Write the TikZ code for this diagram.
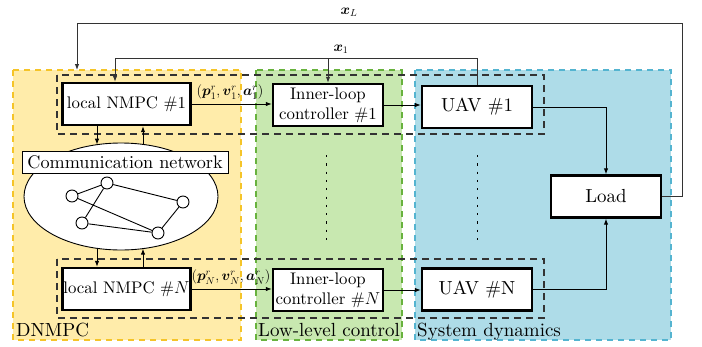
\documentclass[tikz,border=0pt]{standalone}
\usepackage{amsmath}
\usepackage{fontspec}
\setmainfont{lmroman10-regular.otf}[BoldFont=lmroman10-bold.otf, ItalicFont=lmroman10-italic.otf, BoldItalicFont=lmroman10-bolditalic.otf]
\usetikzlibrary{arrows.meta,shapes.geometric}

\definecolor{yfill}{RGB}{255,236,170}
\definecolor{yline}{RGB}{245,196,40}
\definecolor{gfill}{RGB}{200,232,176}
\definecolor{gline}{RGB}{104,178,62}
\definecolor{bfill}{RGB}{174,220,232}
\definecolor{bline}{RGB}{84,180,208}

\tikzset{
  blk/.style={draw, line width=2.4pt, fill=white, minimum height=42pt, inner sep=0pt},
  nmpcbox/.style={blk, minimum width=128pt, font=\fontsize{16.8}{19.8}\selectfont},
  ctrlbox/.style={blk, minimum width=110pt, align=center, font=\fontsize{16.8}{19.8}\selectfont},
  sysbox/.style={blk, minimum width=110pt, font=\fontsize{18.9}{22}\selectfont},
  thinbox/.style={draw, line width=0.9pt, fill=white, inner sep=0pt},
  conn/.style={-{Latex[length=6pt,width=4.5pt]}, line width=1pt},
  fb/.style={line width=1.1pt, black!80},
  grp/.style={line width=1.6pt, black!80, dash pattern=on 7pt off 5pt},
  regborder/.style={line width=1.2pt, dash pattern=on 6pt off 5pt},
  reglab/.style={anchor=base west, inner sep=0pt, font=\fontsize{19}{22}\selectfont},
  mlab/.style={inner sep=0pt, font=\fontsize{14.4}{17}\selectfont},
  vdots/.style={line width=1pt, dash pattern=on 2.2pt off 6.1pt},
  gnode/.style={draw, circle, line width=0.9pt, fill=white, minimum size=12pt, inner sep=0pt}
}

\begin{document}
\begin{tikzpicture}[x=1pt, y=-1pt]
\useasboundingbox (0,0) rectangle (702,346);

% shaded regions
\fill[yfill] (13,70) rectangle (241,340);
\draw[yline, regborder] (13,70) rectangle (241,340);
\fill[gfill] (256,70) rectangle (402,340);
\draw[gline, regborder] (256,70) rectangle (402,340);
\fill[bfill] (415,70) rectangle (671,340);
\draw[bline, regborder] (415,70) rectangle (671,340);

\node[reglab] (labD) at (16,336) {DNMPC};
\node[reglab] (labL) at (258,336) {Low-level control};
\node[reglab] (labS) at (417,336) {System dynamics};

% agent groups
\draw[grp] (57,75) rectangle (544,134);
\draw[grp] (57,259) rectangle (544,318);

% communication network
\node[thinbox, ellipse, minimum width=194pt, minimum height=107pt] (net) at (121,196.5) {};
\node[gnode] (ga) at (72,196) {};
\node[gnode] (gb) at (107,183) {};
\node[gnode] (gc) at (183,202) {};
\node[gnode] (gd) at (82,223) {};
\node[gnode] (ge) at (158,233) {};
\draw[line width=0.9pt] (ga) -- (gb) (gb) -- (gc) (gb) -- (gd) (ga) -- (ge) (gd) -- (ge) (gc) -- (ge);
\node[thinbox, minimum width=206pt, minimum height=22pt, font=\fontsize{18.2}{21}\selectfont] (comm) at (125,162) {Communication network};

% blocks
\node[nmpcbox] (n1) at (126.5,104) {local NMPC \#1};
\node[ctrlbox] (c1) at (328,105) {Inner-loop\\controller \#1};
\node[sysbox] (u1) at (477,107) {UAV \#1};
\node[sysbox] (load) at (606,196.5) {Load};
\node[nmpcbox] (nN) at (126.5,289) {local NMPC $\#N$};
\node[ctrlbox] (cN) at (328,290) {Inner-loop\\controller $\#N$};
\node[sysbox] (uN) at (477,289.5) {UAV \#N};

% forward signals
\draw[conn] (n1.east) -- (n1.east -| c1.west);
\draw[conn] (c1.east) -- (c1.east -| u1.west);
\draw[conn] (nN.east) -- (nN.east -| cN.west);
\draw[conn] (cN.east) -- (cN.east -| uN.west);
\node[mlab] (r1) at (230,92) {$(\boldsymbol{p}_1^r,\boldsymbol{v}_1^r,\boldsymbol{a}_1^r)$};
\node[mlab] (rN) at (231,277) {$(\boldsymbol{p}_N^r,\boldsymbol{v}_N^r,\boldsymbol{a}_N^r)$};
\draw[conn] (u1.east) -| (load.north);
\draw[conn] (uN.east) -| (load.south);

% exchange with the network
\coordinate (et1) at (97,144.7);
\coordinate (et2) at (143,144.4);
\coordinate (eb1) at (97,248.3);
\coordinate (eb2) at (143,248.6);
\draw[conn] (n1.south -| et1) -- (et1);
\draw[conn] (et2) -- (n1.south -| et2);
\draw[conn] (eb1) -- (nN.north -| eb1);
\draw[conn] (nN.north -| eb2) -- (eb2);

% vertical ellipses
\coordinate (dg1) at (326,155);
\coordinate (dg2) at (326,240);
\coordinate (db1) at (477,155);
\coordinate (db2) at (477,240);
\draw[vdots] (dg1) -- (dg2);
\draw[vdots] (db1) -- (db2);

% feedback of the load state
\coordinate (fbR) at (682,23);
\coordinate (fbL) at (77,23);
\coordinate (fbE) at (77,70);
\draw[fb, conn] (load.east) -| (fbR) -- (fbL) -- (fbE);
\node[mlab] (xL) at (349,12) {$\boldsymbol{x}_L$};

% feedback of the UAV state
\coordinate (x1L) at (115,58);
\coordinate (x1B) at (328,58);
\draw[fb, conn] (u1.north) -- (u1.north |- x1L) -- (x1L) -- (n1.north -| x1L);
\draw[fb, conn] (x1B) -- (c1.north);
\node[mlab] (x1) at (341,49) {$\boldsymbol{x}_1$};
\end{tikzpicture}
\end{document}
